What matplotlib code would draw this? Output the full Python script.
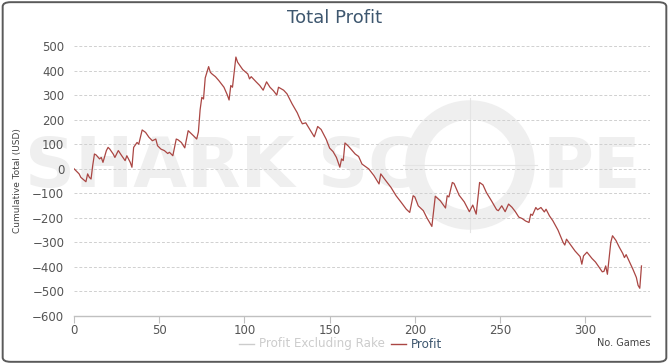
import matplotlib
matplotlib.use("Agg")
import matplotlib.pyplot as plt
from matplotlib.patches import FancyBboxPatch, Circle

plt.rcParams['font.family'] = ['Liberation Sans Narrow', 'DejaVu Sans']

# cumulative profit (game number, USD)
games = [0, 3, 4, 7, 8, 9, 10, 11, 12, 13, 15, 16, 17, 19, 20, 21, 23, 24, 26, 28,
         30, 31, 33, 34, 35, 37, 38, 40, 42, 44, 46, 48, 49, 51, 53, 55, 56, 58, 60, 61,
         63, 65, 67, 70, 72, 73, 74, 75, 76, 77, 79, 80, 81, 83, 85, 88, 90, 91, 92, 93,
         95, 96, 99, 102, 103, 104, 107, 109, 111, 113, 115, 117, 119, 120, 123, 125, 128, 131, 133, 134,
         136, 138, 141, 143, 145, 148, 150, 152, 154, 156, 157, 158, 159, 161, 165, 167, 169, 173, 176, 179,
         180, 183, 186, 189, 192, 195, 197, 199, 200, 202, 205, 207, 210, 212, 215, 218, 219, 220, 222, 223,
         226, 229, 232, 234, 236, 238, 240, 242, 245, 248, 249, 251, 253, 255, 257, 259, 261, 263, 265, 267,
         268, 269, 271, 272, 274, 276, 277, 279, 281, 284, 287, 288, 289, 292, 294, 297, 298, 299, 301, 304,
         306, 308, 310, 311, 312, 313, 315, 316, 318, 320, 322, 323, 324, 326, 328, 330, 331, 332, 333]
profit = [0, -21, -35, -53, -21, -35, -42, 14, 60, 56, 40, 46, 26, 74, 87, 80, 60, 46, 74, 53,
          33, 53, 26, 6, 87, 107, 100, 158, 148, 128, 114, 121, 94, 80, 74, 62, 67, 53, 121, 118,
          107, 85, 155, 135, 121, 150, 240, 291, 284, 370, 416, 393, 386, 375, 359, 332, 300, 280, 339, 332,
          455, 434, 404, 386, 366, 375, 353, 339, 320, 354, 332, 318, 300, 332, 320, 305, 264, 228, 196, 183,
          187, 164, 130, 172, 160, 120, 84, 70, 46, 6, 40, 33, 105, 92, 60, 50, 19, -1, -28, -62,
          -21, -49, -76, -110, -137, -165, -178, -110, -115, -151, -171, -199, -235, -112, -131, -160, -110, -115, -56, -60,
          -108, -135, -175, -148, -185, -56, -66, -97, -131, -167, -171, -151, -175, -144, -157, -175, -197, -203, -213, -219,
          -185, -190, -158, -167, -158, -176, -165, -192, -212, -250, -300, -311, -287, -316, -335, -358, -389, -355, -340, -366,
          -380, -400, -420, -418, -396, -430, -300, -273, -292, -320, -345, -362, -350, -380, -410, -443, -475, -487, -396]

y_ticks = list(range(-600, 501, 100))
x_ticks = [0, 50, 100, 150, 200, 250, 300]

W, H = 669, 364
fig = plt.figure(figsize=(W / 100, H / 100), dpi=100)
fig.patch.set_facecolor('white')


def fx(px):
    return px / W


def fy(py):
    return 1 - py / H


# rounded outer frame
frame = FancyBboxPatch((0.004, 0.006), 0.992, 0.988, boxstyle="round,pad=0,rounding_size=0.012",
                       transform=fig.transFigure, fill=False, edgecolor='#5a5a5a', linewidth=1.4)
fig.patches.append(frame)

# watermark, kept behind the axes
wm = '#efefef'
for txt, x0 in [('SHARK', 25), ('SC', 318)]:
    fig.text(fx(x0), fy(168), txt, fontsize=50, fontweight='bold', color=wm,
             family='DejaVu Sans', va='center', ha='left', zorder=-2)
fig.text(fx(641), fy(168), 'PE', fontsize=50, fontweight='bold', color=wm,
         family='DejaVu Sans', va='center', ha='right', zorder=-2)
fig.add_artist(Circle((4.70, (H - 165) / 100), 0.55, transform=fig.dpi_scale_trans,
                      fill=False, edgecolor=wm, linewidth=14, zorder=-2))
fig.add_artist(plt.Line2D([fx(470), fx(470)], [fy(98), fy(232)], transform=fig.transFigure,
                          color='#e4e4e4', linewidth=0.8, zorder=-1))
fig.add_artist(plt.Line2D([fx(403), fx(537)], [fy(165), fy(165)], transform=fig.transFigure,
                          color='#e4e4e4', linewidth=0.8, zorder=-1))

ax = fig.add_axes([fx(74), fy(316), fx(650 - 74), 270 / H])
ax.set_zorder(1)
ax.set_xlim(0, 338)
ax.set_ylim(-600, 500)
ax.set_facecolor('none')

for v in y_ticks[1:]:
    ax.axhline(v, color='#d0d0d0', linestyle=(0, (3, 2)), linewidth=0.7, zorder=1)

ax.plot(games, profit, color='#aa4643', linewidth=0.9, zorder=3)

for s in ['top', 'right', 'left']:
    ax.spines[s].set_visible(False)
ax.spines['bottom'].set_color('#c0c0c0')
ax.spines['bottom'].set_linewidth(1.0)

ax.set_yticks(y_ticks)
ax.set_xticks(x_ticks)
ax.tick_params(axis='y', length=0, labelsize=8.5, labelcolor='#555555', pad=7)
ax.tick_params(axis='x', length=5, color='#c0c0c0', labelsize=8.5, labelcolor='#555555', pad=1)
ax.set_ylabel('Cumulative Total (USD)', fontsize=6.5, color='#444444')
ax.yaxis.set_label_coords(-(74 - 22) / 576, 0.5)

fig.text(0.5, fy(18), 'Total Profit', ha='center', va='center', fontsize=13, color='#3e576f')

# legend
ly = fy(344)
fig.add_artist(plt.Line2D([fx(239), fx(254)], [ly, ly], transform=fig.transFigure,
                          color='#cccccc', linewidth=1.0))
fig.text(fx(259), ly, 'Profit Excluding Rake', ha='left', va='center', fontsize=8.6, color='#cccccc')
fig.add_artist(plt.Line2D([fx(391), fx(406)], [ly, ly], transform=fig.transFigure,
                          color='#aa4643', linewidth=1.0))
fig.text(fx(411), ly, 'Profit', ha='left', va='center', fontsize=8.6, color='#3e576f')
fig.text(fx(650), fy(343), 'No. Games', ha='right', va='center', fontsize=7, color='#444444')

fig.savefig('out.png', dpi=100, facecolor='white')
